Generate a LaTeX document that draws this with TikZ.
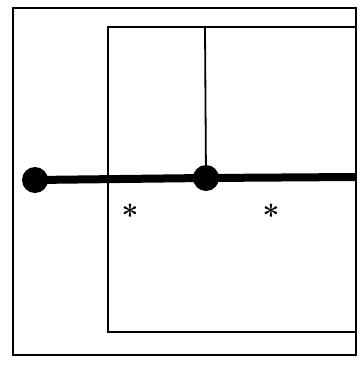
\documentclass[tikz,border=0pt]{standalone}
\begin{document}
\begin{tikzpicture}[x=1pt,y=-1pt,
  dot/.style={circle,fill=black,inner sep=0pt,minimum size=26pt},
  star/.style={inner sep=0pt,font=\fontsize{30}{30}\selectfont\bfseries},
  outerline/.style={line width=2.8pt},
  innerline/.style={line width=1.8pt},
  thick line/.style={line width=8pt}]
\useasboundingbox (0,0) rectangle (360,370);
\draw[outerline] (13,8) rectangle (356,355);
\draw[innerline] (108,27) rectangle (356,332);
\coordinate (top) at (205,27);
\coordinate (rightend) at (356,177);
\node[dot] (a) at (35,180) {};
\node[dot] (b) at (206,178) {};
\draw[innerline] (top) -- (b.center);
\draw[thick line] (a.center) -- (b.center) -- (rightend);
\node[star] (s1) at (130,215) {*};
\node[star] (s2) at (271,215) {*};
\end{tikzpicture}
\end{document}
